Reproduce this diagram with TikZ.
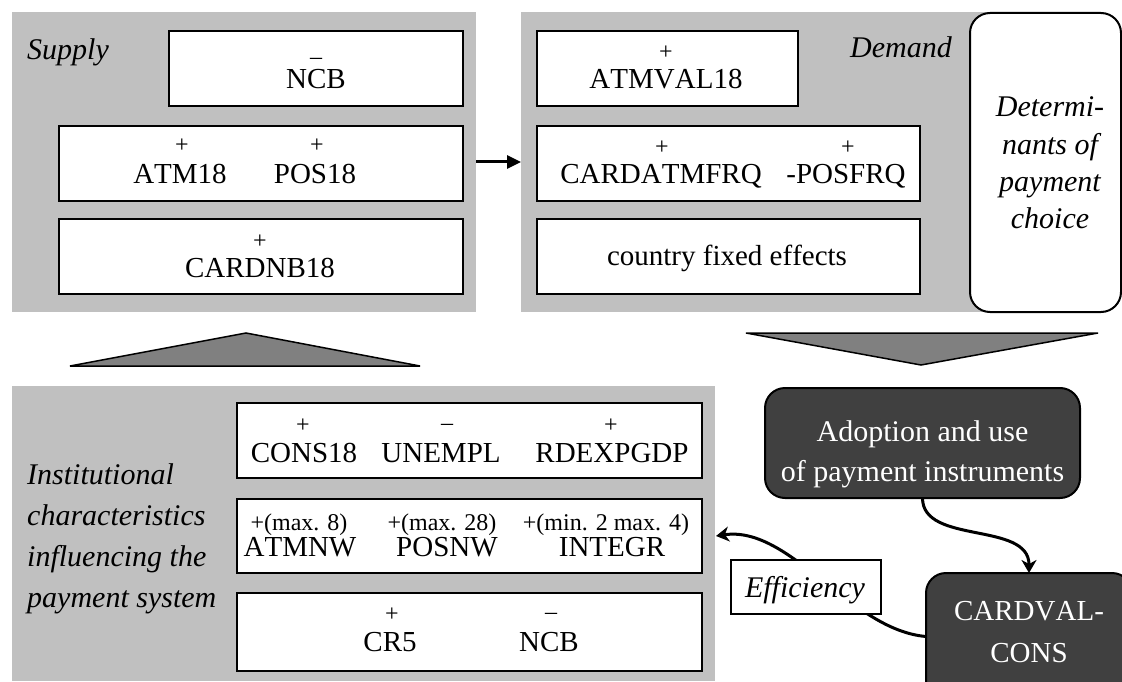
\documentclass[tikz,border=0pt]{standalone}
\usepackage{fontspec}
\setmainfont[Kerning=Off]{Liberation Serif}
\usetikzlibrary{arrows.meta}
\definecolor{panelgray}{HTML}{C0C0C0}
\definecolor{trigray}{HTML}{808080}
\definecolor{darkbox}{HTML}{404040}
\begin{document}
\begin{tikzpicture}[x=1pt,y=-1pt,
  panel/.style={fill=panelgray, draw=none, inner sep=0pt, outer sep=0pt},
  wbox/.style={draw=black, line width=2pt, fill=white, inner sep=0pt, outer sep=0pt},
  dbox/.style={draw=black, line width=2pt, fill=darkbox, rounded corners=20pt, inner sep=0pt, outer sep=0pt},
  nm/.style={font=\fontsize{29}{35}\selectfont, inner sep=0pt, anchor=base},
  sg/.style={font=\fontsize{24}{28}\selectfont, inner sep=0pt, anchor=base},
  lab/.style={font=\fontsize{30}{37}\selectfont\itshape, inner sep=0pt},
  wlab/.style={font=\fontsize{30}{37}\selectfont, text=white, inner sep=0pt, anchor=base},
  tri/.style={draw=black, line width=1.5pt, fill=trigray, line join=miter},
  conn/.style={line width=3pt, -{Stealth[length=13pt,width=15pt,inset=4pt]}},
  sconn/.style={line width=3pt, -{Triangle[length=14pt,width=13pt]}}
]
\useasboundingbox (0,0) rectangle (1122,682);
\clip (0,0) rectangle (1122,682);

% panels
\node[panel, minimum width=464pt, minimum height=300pt] (supply) at (244,162) {};
\node[panel, minimum width=479pt, minimum height=300pt] (demand) at (760.5,162) {};
\node[panel, minimum width=703pt, minimum height=295pt] (inst) at (363.5,533.5) {};

% triangles
\draw[tri] (70,366) -- (420,366) -- (246,333) -- cycle;
\draw[tri] (746,333) -- (1098,333) -- (921,365) -- cycle;

% supply boxes
\node[wbox, minimum width=294pt, minimum height=75pt] (s1) at (316,68.5) {};
\node[wbox, minimum width=404pt, minimum height=75pt] (s2) at (261,163.5) {};
\node[wbox, minimum width=404pt, minimum height=75pt] (s3) at (261,256.5) {};
\node[sg] (s1a) at (316,65) {–};
\node[nm] (s1b) at (316,89) {NCB};
\node[sg] (s2a) at (182,153) {+};
\node[nm] (s2b) at (180,183) {ATM18};
\node[sg] (s2c) at (317,153) {+};
\node[nm] (s2d) at (315,183) {POS18};
\node[sg] (s3a) at (260,248) {+};
\node[nm] (s3b) at (260,277) {CARDNB18};
\node[lab, anchor=base west] (supplylab) at (27,60) {Supply};

% demand boxes
\node[wbox, minimum width=261pt, minimum height=75pt] (d1) at (667.5,68.5) {};
\node[wbox, minimum width=383pt, minimum height=75pt] (d2) at (728.5,163.5) {};
\node[wbox, minimum width=383pt, minimum height=75pt] (d3) at (728.5,256.5) {};
\node[sg] (d1a) at (666,60) {+};
\node[nm] (d1b) at (666,89) {ATMVAL18};
\node[sg] (d2a) at (662,155) {+};
\node[nm] (d2b) at (661,183) {CARDATMFRQ};
\node[sg] (d2c) at (848,155) {+};
\node[nm] (d2d) at (846,183) {-POSFRQ};
\node[nm] (d3a) at (727,265) {country fixed effects};
\node[lab, anchor=base east] (demandlab) at (952,58) {Demand};

% determinants box
\node[wbox, rounded corners=20pt, minimum width=151pt, minimum height=299pt] (det) at (1045.5,162.5) {};
\node[lab, anchor=base] (det1) at (1050,117) {Determi-};
\node[lab, anchor=base] (det2) at (1050,154) {nants of};
\node[lab, anchor=base] (det3) at (1050,191) {payment};
\node[lab, anchor=base] (det4) at (1050,228) {choice};

% institutional boxes
\node[wbox, minimum width=465pt, minimum height=75pt] (i1) at (469.5,440.5) {};
\node[wbox, minimum width=465pt, minimum height=74pt] (i2) at (469.5,536) {};
\node[wbox, minimum width=465pt, minimum height=78pt] (i3) at (469.5,632) {};
\node[sg] (i1a) at (303,432) {+};
\node[nm] (i1b) at (304,462) {CONS18};
\node[sg] (i1c) at (447,430) {–};
\node[nm] (i1d) at (441,462) {UNEMPL};
\node[sg] (i1e) at (611,432) {+};
\node[nm] (i1f) at (612,462) {RDEXPGDP};
\node[sg] (i2a) at (299,530) {+(max. 8)};
\node[nm] (i2b) at (300,556) {ATMNW};
\node[sg] (i2c) at (442,530) {+(max. 28)};
\node[nm] (i2d) at (447,556) {POSNW};
\node[sg] (i2e) at (606,530) {+(min. 2 max. 4)};
\node[nm] (i2f) at (612,556) {INTEGR};
\node[sg] (i3a) at (392,621) {+};
\node[nm] (i3b) at (390,651) {CR5};
\node[sg] (i3c) at (551,619) {–};
\node[nm] (i3d) at (549,651) {NCB};
\node[lab, anchor=base west] (inst1) at (27,484) {Institutional};
\node[lab, anchor=base west] (inst2) at (27,525) {characteristics};
\node[lab, anchor=base west] (inst3) at (27,566) {influencing the};
\node[lab, anchor=base west] (inst4) at (27,607) {payment system};

% adoption and cardval
\node[dbox, minimum width=315pt, minimum height=110pt] (adopt) at (922.5,443) {};
\node[wlab] (adopt1) at (922.5,441) {Adoption and use};
\node[wlab] (adopt2) at (922.5,481) {of payment instruments};
\node[dbox, minimum width=206pt, minimum height=127pt] (cardval) at (1029,636.5) {};
\node[wlab, font=\fontsize{29}{35}\selectfont] (cv1) at (1029,620) {CARDVAL-};
\node[wlab, font=\fontsize{29}{35}\selectfont] (cv2) at (1029,662) {CONS};

% connectors
\draw[sconn] (supply.east) -- (demand.west);
\draw[conn] (adopt.south) .. controls +(0,47) and +(0,-52) .. (cardval.north);
\coordinate (effend) at (716,536);
\draw[conn] (cardval.west) .. controls (850,630) and (790,525) .. (effend);
\node[wbox, minimum width=150pt, minimum height=54pt] (eff) at (806,587) {};
\node[lab, anchor=base] (efflab) at (805,597) {Efficiency};
\end{tikzpicture}
\end{document}
